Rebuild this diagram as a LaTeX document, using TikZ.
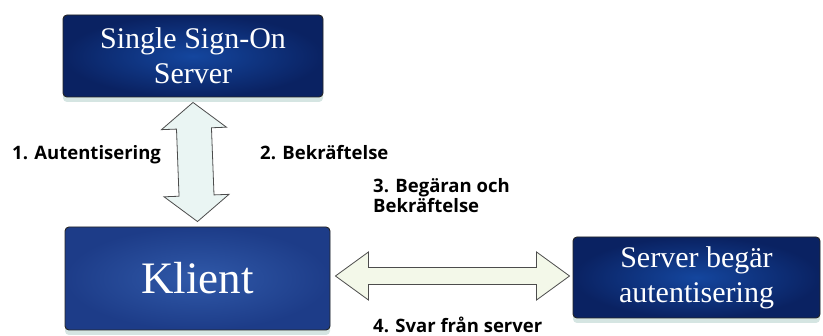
\documentclass[tikz,border=0pt]{standalone}
\usepackage{fontspec}
\setmainfont{Liberation Serif}
\newfontfamily\lblfont{Open Sans}
\usetikzlibrary{calc,positioning,shadows}

\definecolor{boxmid}{HTML}{14469E}
\definecolor{boxdark}{HTML}{0A2262}
\definecolor{klmid}{HTML}{3059A9}
\definecolor{kldark}{HTML}{1D3C88}
\definecolor{shadowc}{HTML}{B9D3CF}
\definecolor{arrowv}{HTML}{EAF5F3}
\definecolor{arrowh}{HTML}{F3F8E9}

\tikzset{
  box/.style={draw=black!85, line width=0.9pt, rounded corners=4pt,
    inner color=boxmid, outer color=boxdark, text=white, align=center,
    font=\fontsize{30}{35}\selectfont,
    drop shadow={shadow xshift=0pt, shadow yshift=-5pt, fill=shadowc, opacity=0.6}},
  fat/.style={draw=black!70, line width=0.8pt, line join=miter},
  lbl/.style={font=\lblfont\bfseries\fontsize{18.5}{20}\selectfont, align=left, inner sep=0pt}
}

% hollow double-headed block arrow between two tips
\newcommand{\fatarrow}[6]{%
  \coordinate (h1) at ($(#2)!#6!(#3)$);
  \coordinate (h2) at ($(#3)!#6!(#2)$);
  \draw[#1] (#2) -- ($(h1)!#5!90:(#3)$) -- ($(h1)!#4!90:(#3)$)
    -- ($(h2)!#4!-90:(#2)$) -- ($(h2)!#5!-90:(#2)$) -- (#3)
    -- ($(h2)!#5!90:(#2)$) -- ($(h2)!#4!90:(#2)$)
    -- ($(h1)!#4!-90:(#3)$) -- ($(h1)!#5!-90:(#3)$) -- cycle;
}

\begin{document}
\begin{tikzpicture}[x=1pt, y=-1pt]
  \useasboundingbox (0,0) rectangle (823,336);

  % Define nodes
  \node[box, minimum width=260pt, minimum height=82pt] (sso) at (193,56)
    {Single Sign-On\\Server};
  \node[box, minimum width=265pt, minimum height=103pt,
    inner color=klmid, outer color=kldark,
    font=\fontsize{45}{50}\selectfont] (klient) at (197.5,278.5) {Klient};
  \node[box, minimum width=247pt, minimum height=81pt] (srv) at (696.5,277.5)
    {Server begär\\autentisering};

  % Connect the nodes
  \coordinate (vtop) at ([yshift=-5pt]sso.south);
  \coordinate (vbot) at ([yshift=5pt]klient.north);
  \fatarrow{fat, fill=arrowv}{vtop}{vbot}{17.5pt}{32.5pt}{26pt}

  \coordinate (hleft) at ([xshift=5pt, yshift=2.5pt]klient.east);
  \coordinate (hright) at (srv.west |- hleft);
  \coordinate (hright) at ([xshift=-3pt]hright);
  \fatarrow{fat, fill=arrowh}{hleft}{hright}{8.5pt}{24pt}{33pt}

  % Labels
  \node[lbl, anchor=base west] (autent) at (12,160) {1. Autentisering};
  \node[lbl, anchor=base west] (bekr) at (260,160) {2. Bekräftelse};
  \node[lbl, anchor=base west] (beg) at (373,213) {3. Begäran och\\Bekräftelse};
  \node[lbl, anchor=base west] (svar) at (373,333) {4. Svar från server};

\end{tikzpicture}
\end{document}
